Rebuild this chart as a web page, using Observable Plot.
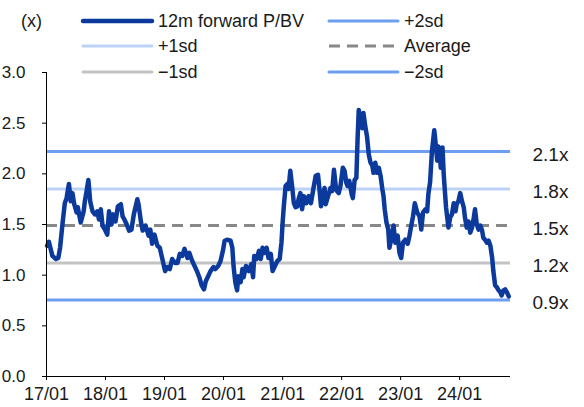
<!DOCTYPE html>
<html>
<head>
<meta charset="utf-8">
<script src="https://cdn.jsdelivr.net/npm/d3@7"></script>
<script src="https://cdn.jsdelivr.net/npm/@observablehq/plot@0.6"></script>
<style>
  html, body { margin: 0; padding: 0; background: #fff; }
  #chart { position: relative; width: 584px; height: 407px; }
</style>
</head>
<body>
<div id="chart"></div>
<script>
// ---- data (decimal years, 12m forward P/BV) ----
const years = [
 2017.01,2017.04,2017.10,2017.16,2017.20,2017.23,2017.27,2017.31,2017.34,2017.38,
 2017.41,2017.44,2017.47,2017.51,2017.53,2017.58,2017.63,2017.65,2017.68,2017.71,
 2017.74,2017.78,2017.82,2017.86,2017.89,2017.92,2017.95,2017.99,2018.03,2018.06,
 2018.10,2018.13,2018.17,2018.21,2018.26,2018.29,2018.32,2018.36,2018.40,2018.44,
 2018.48,2018.54,2018.56,2018.60,2018.63,2018.68,2018.73,2018.76,2018.79,2018.83,
 2018.88,2018.92,2018.96,2019.01,2019.05,2019.09,2019.13,2019.18,2019.22,2019.26,
 2019.30,2019.34,2019.39,2019.42,2019.47,2019.51,2019.55,2019.59,2019.63,2019.67,
 2019.70,2019.74,2019.78,2019.83,2019.86,2019.91,2019.95,2019.99,2020.02,2020.06,
 2020.12,2020.15,2020.17,2020.20,2020.23,2020.25,2020.29,2020.32,2020.34,2020.38,
 2020.43,2020.47,2020.50,2020.52,2020.56,2020.60,2020.63,2020.66,2020.69,2020.73,
 2020.76,2020.80,2020.83,2020.87,2020.91,2020.95,2020.98,2021.00,2021.02,2021.05,
 2021.08,2021.10,2021.13,2021.16,2021.19,2021.22,2021.25,2021.27,2021.30,2021.33,
 2021.36,2021.40,2021.44,2021.48,2021.52,2021.56,2021.60,2021.63,2021.65,2021.69,
 2021.71,2021.73,2021.77,2021.81,2021.84,2021.87,2021.90,2021.92,2021.95,2021.98,
 2022.02,2022.05,2022.08,2022.10,2022.13,2022.17,2022.19,2022.22,2022.25,2022.27,
 2022.29,2022.32,2022.35,2022.37,2022.40,2022.43,2022.46,2022.49,2022.52,2022.54,
 2022.57,2022.60,2022.63,2022.66,2022.69,2022.71,2022.73,2022.76,2022.79,2022.81,
 2022.84,2022.88,2022.91,2022.95,2022.98,2023.01,2023.04,2023.08,2023.12,2023.15,
 2023.18,2023.21,2023.24,2023.28,2023.32,2023.35,2023.38,2023.42,2023.45,2023.47,
 2023.50,2023.53,2023.57,2023.59,2023.62,2023.64,2023.66,2023.68,2023.71,2023.73,
 2023.75,2023.77,2023.81,2023.84,2023.87,2023.90,2023.93,2023.95,2023.98,2024.01,
 2024.04,2024.07,2024.09,2024.12,2024.15,2024.18,2024.21,2024.24,2024.26,2024.29,
 2024.32,2024.35,2024.38,2024.40,2024.43,2024.46,2024.49,2024.52,2024.55,2024.57,
 2024.60,2024.63,2024.66,2024.69,2024.71,2024.74,2024.77,2024.80,2024.83
];
const pbv = [
 1.29,1.33,1.19,1.16,1.17,1.27,1.50,1.71,1.76,1.90,
 1.73,1.81,1.70,1.62,1.67,1.52,1.63,1.73,1.83,1.94,
 1.73,1.63,1.60,1.63,1.55,1.65,1.49,1.45,1.40,1.63,
 1.50,1.60,1.53,1.68,1.70,1.58,1.55,1.50,1.44,1.45,
 1.60,1.75,1.70,1.53,1.44,1.49,1.39,1.45,1.31,1.40,
 1.29,1.27,1.17,1.04,1.08,1.06,1.16,1.12,1.12,1.21,
 1.19,1.26,1.17,1.22,1.14,1.09,1.04,0.98,0.90,0.86,
 0.94,0.99,1.04,1.08,1.06,1.09,1.14,1.24,1.34,1.35,
 1.34,1.27,1.09,0.93,0.85,0.99,0.93,1.06,0.98,1.09,
 1.04,1.11,0.98,1.19,1.16,1.24,1.16,1.27,1.22,1.27,
 1.17,1.21,1.04,1.09,1.14,1.16,1.32,1.52,1.68,1.88,
 1.90,1.85,2.03,1.88,1.71,1.67,1.68,1.75,1.81,1.65,
 1.78,1.71,1.78,1.71,1.85,1.98,1.99,1.81,1.68,1.81,
 1.86,1.70,1.78,1.86,1.83,2.04,1.88,1.83,1.81,1.88,
 2.06,2.03,1.91,1.88,1.93,1.80,1.76,1.94,1.96,2.34,
 2.63,2.53,2.45,2.60,2.47,2.37,2.19,2.11,2.08,2.01,
 2.11,2.01,2.06,1.98,1.85,1.78,1.65,1.52,1.45,1.27,
 1.35,1.49,1.32,1.39,1.22,1.17,1.32,1.35,1.31,1.39,
 1.49,1.58,1.71,1.62,1.58,1.45,1.62,1.65,1.63,1.80,
 1.92,2.22,2.43,2.32,2.13,2.27,2.24,2.06,2.26,2.00,
 1.83,1.67,1.47,1.57,1.60,1.71,1.63,1.70,1.73,1.81,
 1.73,1.67,1.57,1.47,1.53,1.42,1.47,1.57,1.65,1.50,
 1.45,1.49,1.44,1.37,1.35,1.32,1.34,1.29,1.17,1.04,
 0.90,0.88,0.85,0.83,0.80,0.85,0.86,0.83,0.79
];
// bands
const bandNames  = ["+2sd", "+1sd", "Average", "\u22121sd", "\u22122sd"];
const bandValues = [2.22, 1.85, 1.49, 1.12, 0.755];
const bandLabels = ["2.1x", "1.8x", "1.5x", "1.2x", "0.9x"];
// axes
const xTickLabels = ["17/01","18/01","19/01","20/01","21/01","22/01","23/01","24/01"];
const yTicks = [0, 0.5, 1.0, 1.5, 2.0, 2.5, 3.0];
const seriesName = "12m forward P/BV";
const unitLabel = "(x)";

// ---- styling ----
const FONT = "'Liberation Sans', Arial, sans-serif";
const mainColor = "#0b3a9c";
const bandStyle = {
  "+2sd":    {stroke: "#6d9eef", width: 3, dash: null},
  "+1sd":    {stroke: "#bcd2f6", width: 3, dash: null},
  "Average": {stroke: "#888888", width: 3, dash: "11,7"},
  "\u22121sd": {stroke: "#c3c3c3", width: 3, dash: null},
  "\u22122sd": {stroke: "#6d9eef", width: 3, dash: null}
};

function decYear(t) {
  const y = Math.floor(t);
  const s = Date.UTC(y, 0, 1), e = Date.UTC(y + 1, 0, 1);
  return new Date(s + (t - y) * (e - s));
}
const series = years.map((t, i) => ({date: decYear(t), v: pbv[i]}));
const bands = bandNames.map((n, i) => ({name: n, v: bandValues[i], label: bandLabels[i]}));
const xTicks = xTickLabels.map(s => new Date(Date.UTC(2000 + +s.slice(0, 2), +s.slice(3) - 1, 1)));
const xDomain = [new Date(Date.UTC(2017, 0, 1)), decYear(2024.86)];

const plot = Plot.plot({
  width: 584,
  height: 407,
  marginTop: 72,
  marginBottom: 31,
  marginLeft: 46,
  marginRight: 74,
  style: {fontFamily: FONT, fontSize: "17px", color: "#1a1a1a", background: "#fff", overflow: "visible"},
  x: {type: "utc", domain: xDomain, label: null},
  y: {domain: [0, 3], label: null},
  marks: [
    ...bands.map(b => Plot.ruleY([b], {
      y: "v",
      stroke: bandStyle[b.name].stroke,
      strokeWidth: bandStyle[b.name].width,
      strokeDasharray: bandStyle[b.name].dash
    })),
    Plot.text(bands, {
      y: "v", text: "label", frameAnchor: "right", textAnchor: "start",
      dx: 22, dy: 3, fontSize: 19, fill: "#1a1a1a"
    }),
    Plot.line(series, {x: "date", y: "v", stroke: mainColor, strokeWidth: 4.5, strokeLinejoin: "round", strokeLinecap: "round"}),
    Plot.ruleY([0], {stroke: "#000", strokeWidth: 1}),
    Plot.ruleX([xDomain[0]], {y1: 0, y2: 3, stroke: "#000", strokeWidth: 1}),
    Plot.axisY({ticks: yTicks, tickFormat: d => d.toFixed(1), tickSize: 4, tickPadding: 17, fontSize: 17, stroke: "#000", label: null}),
    Plot.axisX({ticks: xTicks, tickFormat: (d, i) => xTickLabels[i], tickSize: 4, tickPadding: 7, fontSize: 18, stroke: "#000", label: null})
  ]
});
document.getElementById("chart").appendChild(plot);

// ---- legend (drawn in the same svg, above the plotting area) ----
const svg = d3.select(plot);
const legendItems = [
  {name: seriesName, col: 0, row: 0, stroke: mainColor, width: 4.5, dash: null},
  {name: bandNames[1], col: 0, row: 1, ...bandStyle[bandNames[1]]},
  {name: bandNames[3], col: 0, row: 2, ...bandStyle[bandNames[3]]},
  {name: bandNames[0], col: 1, row: 0, ...bandStyle[bandNames[0]]},
  {name: bandNames[2], col: 1, row: 1, ...bandStyle[bandNames[2]]},
  {name: bandNames[4], col: 1, row: 2, ...bandStyle[bandNames[4]]}
];
const colX = [83, 329];
const rowY = [21, 46, 72];
const lg = svg.append("g").attr("font-family", FONT).attr("font-size", 18)
  .attr("fill", "#1a1a1a").attr("text-anchor", "start");
legendItems.forEach(it => {
  const x0 = colX[it.col], y0 = rowY[it.row];
  lg.append("line").attr("x1", x0).attr("x2", x0 + 69).attr("y1", y0).attr("y2", y0)
    .attr("stroke", it.stroke).attr("stroke-width", it.width)
    .attr("stroke-dasharray", it.dash || null).attr("stroke-linecap", it.dash ? "butt" : "round");
  lg.append("text").attr("x", x0 + 75).attr("y", y0).attr("dy", "0.35em").text(it.name);
});
lg.append("text").attr("x", 21).attr("y", 21).attr("dy", "0.35em").attr("font-size", 18).text(unitLabel);
</script>
</body>
</html>
